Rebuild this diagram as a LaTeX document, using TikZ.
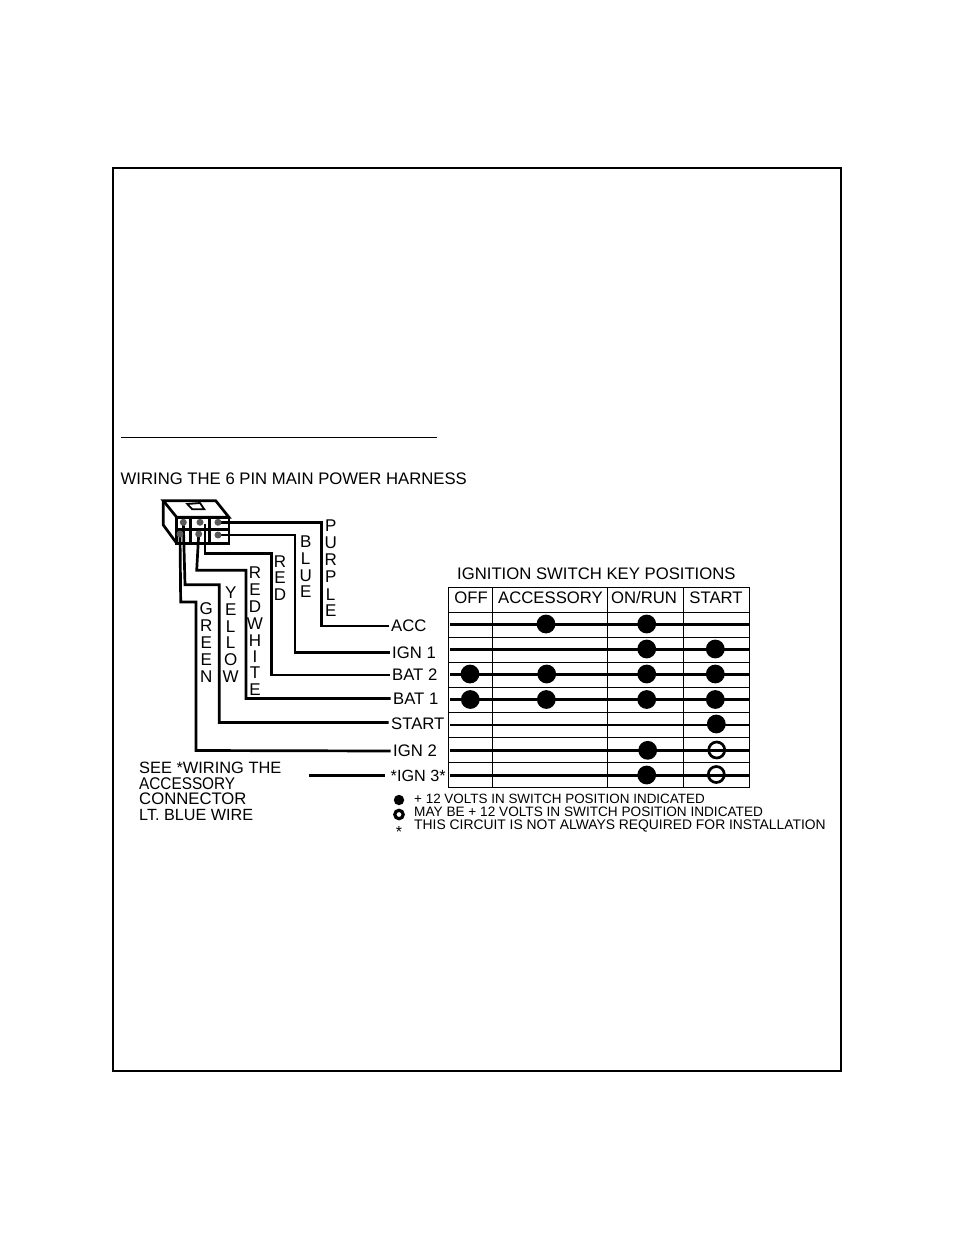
\documentclass[tikz,border=0pt]{standalone}
\usepackage{fontspec}
\usepackage{graphicx}
\setmainfont{Liberation Sans}
\usetikzlibrary{backgrounds}
\tikzset{
  wire/.style={line width=2.7pt,line join=miter},
  grid/.style={line width=1pt},
  body/.style={line width=2.7pt,line join=miter},
  lab/.style={anchor=west,inner ysep=0pt,inner xsep=2.5pt,font=\fontsize{16.7}{16}\selectfont,text height=11.8pt,text depth=0pt},
  plain/.style={anchor=west,inner sep=0pt,text height=11.8pt,text depth=0pt,font=\fontsize{16.7}{16}\selectfont},
  small/.style={anchor=west,inner sep=0pt,font=\fontsize{13.87}{13}\selectfont,text height=9.9pt,text depth=0pt},
  stack/.style={anchor=center,inner sep=0pt,font=\fontsize{17}{16}\selectfont},
  hdr/.style={anchor=center,inner sep=0pt,font=\fontsize{16.7}{16}\selectfont,text height=11.8pt,text depth=0pt},
  pin/.style={circle,fill=black!65,inner sep=0pt,minimum size=7pt},
  dot/.style={circle,fill=black,inner sep=0pt,minimum size=18.8pt},
  ring/.style={circle,draw=black,line width=2.7pt,fill=none,inner sep=0pt,minimum size=16pt},
  ldot/.style={circle,fill=black,inner sep=0pt,minimum size=10.4pt},
  lring/.style={circle,draw=black,line width=3.2pt,inner sep=0pt,minimum size=8.4pt},
}
\newcommand{\vlabel}[3]{\foreach \c/\y [count=\i] in {#3}{\node[stack] (#1\i) at (#2,\y) {\c};}}
\begin{document}
\begin{tikzpicture}[x=1pt,y=-1pt]
\useasboundingbox (0,0) rectangle (954,1235);
\draw[line width=1.8pt] (113,168) rectangle (841,1071);
\draw[line width=1pt] (121,437) -- (437,437);
\node[plain] (title) at (120.5,478.5) {WIRING THE 6 PIN MAIN POWER HARNESS};

% pins
\node[pin] (p1) at (183.3,522.3) {};
\node[pin] (p2) at (200,522.3) {};
\node[pin] (p3) at (218,522.3) {};
\node[pin] (p4) at (180,534) {};
\node[pin] (p5) at (198.7,534) {};
\node[pin] (p6) at (218,535) {};

% terminal labels
\node[lab] (acc) at (388.5,626) {ACC};
\node[lab] (ign1) at (389.5,652.5) {IGN 1};
\node[lab] (bat2) at (389.5,675) {BAT 2};
\node[lab] (bat1) at (390.5,698.5) {BAT 1};
\node[lab] (start) at (388.5,723.5) {START};
\node[lab] (ign2) at (390.5,751) {IGN 2};
\node[lab,font=\fontsize{16.2}{16}\selectfont] (ign3) at (388,775.5) {*IGN 3*};

\begin{pgfonlayer}{background}
  % connector body
  \draw[body] (176.7,517.3) -- (163.3,500.7) -- (215.7,500.7) -- (229,517.3) -- cycle;
  \draw[body] (176.7,517.3) rectangle (229,543.3);
  \draw[body] (163.3,500.7) -- (163.3,525) -- (176.7,543.3);
  \draw[body] (190.7,517.3) -- (190.7,543.3) (209.3,517.3) -- (209.3,543.3) (176.7,529.3) -- (229,529.3);
  \draw[line width=1.8pt] (187.3,504) -- (200,503) -- (204.3,509.3) -- (192.3,509.3) -- cycle;
  % wires
  \draw[wire] (p3.center) -- (321.7,522.3) -- (321.7,626) -- (acc.west);
  \draw[wire] (p6.center) -- (295,535) -- (295,652.5) -- (ign1.west);
  \draw[wire] (205,524) -- (205,553.3) -- (271.7,553.3) -- (271.7,675) -- (bat2.west);
  \draw[wire] (p5.center) -- (196.7,570.3) -- (246,570.3) -- (246,698.5) -- (bat1.west);
  \draw[wire] (p1.center) -- (185,584.7) -- (219.3,584.7) -- (219.3,722.5) -- (388.5,722.5);
  \draw[wire] (p4.center) -- (180.7,602) -- (196,602) -- (196,750.5) -- (ign2.west);
  \draw[wire] (309.3,775.5) -- (385,775.5);
\end{pgfonlayer}

% wire colour labels
\vlabel{pur}{330.7}{P/525.7,U/542.7,R/560,P/577,L/594.5,E/610.5}
\vlabel{blu}{305.7}{B/542,L/559,U/575.7,E/592}
\vlabel{red}{280}{R/561.7,E/578,D/594.5}
\vlabel{rw}{255}{R/573,E/590,D/606.7,W/623.3,H/640.7,I/656.7,T/673,E/690}
\vlabel{yel}{230.7}{Y/592.7,E/610,L/627,L/643,O/660,W/676.7}
\vlabel{gre}{206.3}{G/609,R/625.7,E/642.3,E/659.7,N/676.7}

% see note
\node[plain,font=\fontsize{16.4}{16}\selectfont] (see) at (139,767.5) {SEE *WIRING THE};
\node[plain] (see2) at (139,783.5) {\resizebox{96pt}{11.8pt}{ACCESSORY}};
\node[plain] (see3) at (139,799) {CONNECTOR};
\node[plain,font=\fontsize{16.2}{16}\selectfont] (see4) at (139,814.5) {LT. BLUE WIRE};

% table
\node[plain] (ttitle) at (457,573.5) {IGNITION SWITCH KEY POSITIONS};
\draw[grid] (448.5,587.7) rectangle (749,787.5);
\foreach \y in {612,637.3,662.3,687.3,712.3,737.3,762.3}{\draw[grid] (448.5,\y) -- (749,\y);}
\foreach \x in {492.3,607.3,683.3}{\draw[grid] (\x,587.7) -- (\x,787.5);}
\node[hdr] (hoff) at (471,597.5) {OFF};
\node[hdr] (hacc) at (550.5,597.5) {ACCESSORY};
\node[hdr] (hrun) at (644,597.5) {ON/RUN};
\node[hdr] (hstart) at (716,597.5) {START};
\foreach \n/\y in {a/624.3,b/649.3,c/674.3,d/699.3,e/725,f/750.3,g/775.3}{
  \coordinate (l\n) at (450,\y); \coordinate (r\n) at (749,\y);
  \draw[wire] (l\n) -- (r\n);
}
\node[dot] (a2) at (546,624) {};
\node[dot] (a3) at (646.7,624) {};
\node[dot] (b3) at (646.7,649) {};
\node[dot] (b4) at (715.3,649) {};
\node[dot] (c1) at (470,674) {};
\node[dot] (c2) at (546.7,674) {};
\node[dot] (c3) at (646.7,674) {};
\node[dot] (c4) at (715.3,674) {};
\node[dot] (d1) at (470.3,699.5) {};
\node[dot] (d2) at (546.3,699.5) {};
\node[dot] (d3) at (646.7,699.5) {};
\node[dot] (d4) at (715.3,699.5) {};
\node[dot] (e4) at (716.3,724) {};
\node[dot] (f3) at (647.7,750.3) {};
\node[ring] (f4) at (716.7,750) {};
\node[dot] (g3) at (646.7,775) {};
\node[ring] (g4) at (716.3,774.5) {};

% legend
\node[ldot] (k1) at (399,800) {};
\node[lring] (k2) at (399,814.5) {};
\node[inner sep=0pt,font=\fontsize{16}{16}\selectfont] (k3) at (399,832) {*};
\node[small,font=\fontsize{13.45}{13}\selectfont] (t1) at (414,799) {+ 12 VOLTS IN SWITCH POSITION INDICATED};
\node[small,font=\fontsize{13.63}{13}\selectfont] (t2) at (414,812) {MAY BE + 12 VOLTS IN SWITCH POSITION INDICATED};
\node[small] (t3) at (414,824.5) {THIS CIRCUIT IS NOT ALWAYS REQUIRED FOR INSTALLATION};
\end{tikzpicture}
\end{document}
